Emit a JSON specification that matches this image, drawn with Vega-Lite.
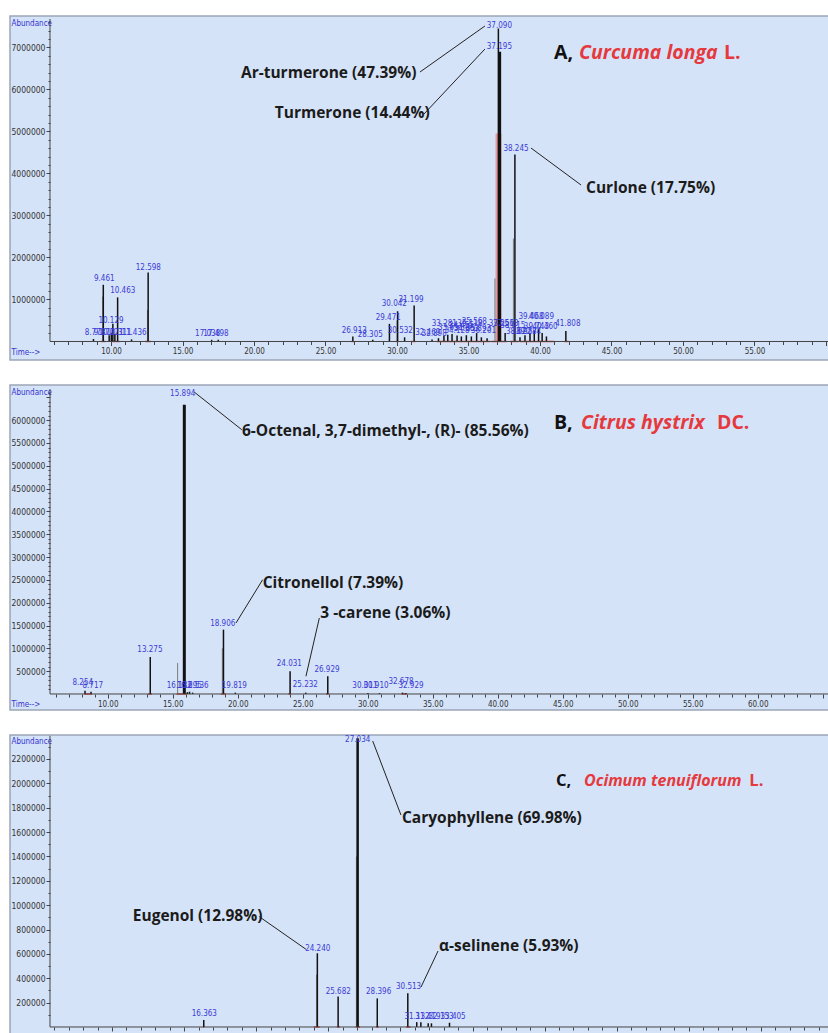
{
  "$schema": "https://vega.github.io/schema/vega-lite/v6.json",
  "background": "white",
  "padding": {"left": 9, "top": 15, "right": 0, "bottom": 0},
  "config": {
    "view": {"fill": "#d5e3f8", "stroke": "#9ba7b6", "strokeWidth": 1.5},
    "axis": {"grid": false, "domain": false, "labelFont": "DejaVu Sans Condensed, sans-serif", "titleFont": "DejaVu Sans Condensed, sans-serif", "labelColor": "#333333", "tickColor": "#444444", "titleColor": "#3434d0", "titleFontWeight": "normal", "titleFontSize": 8, "labelOverlap": false, "labelFlush": false},
    "concat": {"spacing": 23}
  },
  "datasets": {
    "A": [
      {"k": "axis", "t": 5.734, "v": 0, "t2": 60.21, "v2": 0},
      {"k": "axis", "t": 5.734, "v": 0, "t2": 5.734, "v2": 7680000},
      {"k": "fill", "t": 37.1, "v": 4950000},
      {"k": "seg", "t": 9.3, "v": 0, "t2": 9.6, "v2": 0},
      {"k": "seg", "t": 10.0, "v": 0, "t2": 10.6, "v2": 0},
      {"k": "seg", "t": 12.4, "v": 0, "t2": 12.8, "v2": 0},
      {"k": "seg", "t": 26.8, "v": 0, "t2": 27.0, "v2": 0},
      {"k": "seg", "t": 29.9, "v": 0, "t2": 30.1, "v2": 0},
      {"k": "seg", "t": 31.0, "v": 0, "t2": 31.3, "v2": 0},
      {"k": "seg", "t": 32.8, "v": 0, "t2": 36.5, "v2": 0},
      {"k": "seg", "t": 36.6, "v": 0, "t2": 37.7, "v2": 0},
      {"k": "seg", "t": 37.9, "v": 0, "t2": 38.5, "v2": 0},
      {"k": "seg", "t": 38.6, "v": 0, "t2": 41.0, "v2": 0},
      {"k": "seg", "t": 41.7, "v": 0, "t2": 42.0, "v2": 0},
      {"k": "sh", "t": 9.42, "v": 1070000},
      {"k": "sh", "t": 12.55, "v": 750000},
      {"k": "sh", "t": 30.0, "v": 500000},
      {"k": "sh", "t": 36.85, "v": 1500000},
      {"k": "sh", "t": 38.14, "v": 2450000},
      {"k": "peak", "t": 8.773, "v": 60000},
      {"k": "peak", "t": 9.461, "v": 1350000},
      {"k": "peak", "t": 9.872, "v": 150000},
      {"k": "peak", "t": 10.021, "v": 200000},
      {"k": "peak", "t": 10.129, "v": 420000},
      {"k": "peak", "t": 10.271, "v": 180000},
      {"k": "peak", "t": 10.463, "v": 1050000},
      {"k": "peak", "t": 11.436, "v": 50000},
      {"k": "peak", "t": 12.598, "v": 1640000},
      {"k": "peak", "t": 17.038, "v": 40000},
      {"k": "peak", "t": 17.498, "v": 40000},
      {"k": "peak", "t": 26.913, "v": 120000},
      {"k": "peak", "t": 28.305, "v": 40000},
      {"k": "peak", "t": 29.471, "v": 420000},
      {"k": "peak", "t": 30.042, "v": 720000},
      {"k": "peak", "t": 30.532, "v": 100000},
      {"k": "peak", "t": 31.199, "v": 860000},
      {"k": "peak", "t": 32.45, "v": 50000},
      {"k": "peak", "t": 32.9, "v": 80000},
      {"k": "peak", "t": 33.281, "v": 140000},
      {"k": "peak", "t": 33.55, "v": 160000},
      {"k": "peak", "t": 33.85, "v": 180000},
      {"k": "peak", "t": 34.2, "v": 140000},
      {"k": "peak", "t": 34.5, "v": 120000},
      {"k": "peak", "t": 34.85, "v": 150000},
      {"k": "peak", "t": 35.2, "v": 120000},
      {"k": "peak", "t": 35.568, "v": 200000},
      {"k": "peak", "t": 35.9, "v": 100000},
      {"k": "peak", "t": 36.3, "v": 80000},
      {"k": "peak", "t": 37.09, "v": 7450000},
      {"k": "peakb", "t": 37.195, "v": 6900000},
      {"k": "peak", "t": 37.563, "v": 200000},
      {"k": "peak", "t": 38.245, "v": 4450000},
      {"k": "peak", "t": 38.6, "v": 100000},
      {"k": "peak", "t": 38.95, "v": 150000},
      {"k": "peak", "t": 39.3, "v": 200000},
      {"k": "peak", "t": 39.6, "v": 250000},
      {"k": "peak", "t": 39.9, "v": 300000},
      {"k": "peak", "t": 40.15, "v": 200000},
      {"k": "peak", "t": 40.45, "v": 120000},
      {"k": "peak", "t": 41.808, "v": 250000},
      {"k": "pl", "t": 8.88, "v": 195000, "s": "8.773"},
      {"k": "pl", "t": 9.51, "v": 210000, "s": "9.872"},
      {"k": "pl", "t": 10.0, "v": 210000, "s": "10.021"},
      {"k": "pl", "t": 10.56, "v": 210000, "s": "10.311"},
      {"k": "pl", "t": 11.61, "v": 200000, "s": "11.436"},
      {"k": "pl", "t": 9.53, "v": 1480000, "s": "9.461"},
      {"k": "pl", "t": 10.0, "v": 490000, "s": "10.129"},
      {"k": "pl", "t": 10.82, "v": 1200000, "s": "10.463"},
      {"k": "pl", "t": 12.61, "v": 1760000, "s": "12.598"},
      {"k": "pl", "t": 16.76, "v": 190000, "s": "17.038"},
      {"k": "pl", "t": 17.34, "v": 190000, "s": "17.498"},
      {"k": "pl", "t": 27.01, "v": 250000, "s": "26.913"},
      {"k": "pl", "t": 28.13, "v": 155000, "s": "28.305"},
      {"k": "pl", "t": 29.39, "v": 550000, "s": "29.471"},
      {"k": "pl", "t": 29.81, "v": 886000, "s": "30.042"},
      {"k": "pl", "t": 30.98, "v": 980000, "s": "31.199"},
      {"k": "pl", "t": 30.23, "v": 250000, "s": "30.532"},
      {"k": "pl", "t": 32.15, "v": 210000, "s": "32.469"},
      {"k": "pl", "t": 32.6, "v": 170000, "s": "32.898"},
      {"k": "pl", "t": 33.31, "v": 410000, "s": "33.281"},
      {"k": "pl", "t": 33.75, "v": 330000, "s": "33.651"},
      {"k": "pl", "t": 34.2, "v": 260000, "s": "34.128"},
      {"k": "pl", "t": 34.5, "v": 380000, "s": "34.455"},
      {"k": "pl", "t": 34.85, "v": 300000, "s": "34.863"},
      {"k": "pl", "t": 35.1, "v": 420000, "s": "35.118"},
      {"k": "pl", "t": 35.41, "v": 470000, "s": "35.568"},
      {"k": "pl", "t": 35.7, "v": 290000, "s": "35.893"},
      {"k": "pl", "t": 36.05, "v": 250000, "s": "36.201"},
      {"k": "pl", "t": 37.16, "v": 7510000, "s": "37.090"},
      {"k": "pl", "t": 37.16, "v": 7000000, "s": "37.195"},
      {"k": "pl", "t": 37.3, "v": 410000, "s": "37.251"},
      {"k": "pl", "t": 37.62, "v": 410000, "s": "37.563"},
      {"k": "pl", "t": 38.1, "v": 380000, "s": "38.015"},
      {"k": "pl", "t": 38.5, "v": 220000, "s": "38.622"},
      {"k": "pl", "t": 38.9, "v": 220000, "s": "38.957"},
      {"k": "pl", "t": 39.2, "v": 220000, "s": "39.284"},
      {"k": "pl", "t": 38.32, "v": 4580000, "s": "38.245"},
      {"k": "pl", "t": 39.37, "v": 580000, "s": "39.468"},
      {"k": "pl", "t": 40.1, "v": 580000, "s": "40.089"},
      {"k": "pl", "t": 39.75, "v": 350000, "s": "39.743"},
      {"k": "pl", "t": 40.35, "v": 350000, "s": "40.460"},
      {"k": "pl", "t": 41.95, "v": 420000, "s": "41.808"},
      {"k": "lead", "t": 31.61, "v": 6417000, "t2": 36.15, "v2": 7512000},
      {"k": "lead", "t": 31.89, "v": 5417000, "t2": 36.15, "v2": 6964000},
      {"k": "lead", "t": 39.37, "v": 4607000, "t2": 42.87, "v2": 3726000},
      {"k": "note", "t": 19.09, "v": 6393000, "s": "Ar-turmerone (47.39%)"},
      {"k": "note", "t": 21.45, "v": 5430000, "s": "Turmerone (14.44%)"},
      {"k": "note", "t": 43.22, "v": 3655000, "s": "Curlone (17.75%)"},
      {"k": "t1", "t": 40.98, "v": 6876000, "s": "A,"},
      {"k": "t2", "t": 42.73, "v": 6876000, "s": "Curcuma longa"},
      {"k": "t3", "t": 52.87, "v": 6876000, "s": "L."}
    ],
    "B": [
      {"k": "axis", "t": 5.562, "v": 0, "t2": 65.48, "v2": 0},
      {"k": "axis", "t": 5.562, "v": 0, "t2": 5.562, "v2": 6680000},
      {"k": "seg", "t": 8.2, "v": 0, "t2": 8.8, "v2": 0},
      {"k": "seg", "t": 13.1, "v": 0, "t2": 13.4, "v2": 0},
      {"k": "seg", "t": 15.3, "v": 0, "t2": 16.1, "v2": 0},
      {"k": "seg", "t": 18.7, "v": 0, "t2": 19.1, "v2": 0},
      {"k": "seg", "t": 23.9, "v": 0, "t2": 24.1, "v2": 0},
      {"k": "seg", "t": 26.8, "v": 0, "t2": 27.0, "v2": 0},
      {"k": "seg", "t": 32.6, "v": 0, "t2": 33.0, "v2": 0},
      {"k": "sh", "t": 15.38, "v": 680000},
      {"k": "sh", "t": 18.82, "v": 1000000},
      {"k": "peak", "t": 8.254, "v": 70000},
      {"k": "peak", "t": 8.717, "v": 50000},
      {"k": "peak", "t": 13.275, "v": 810000},
      {"k": "peakb", "t": 15.894, "v": 6340000},
      {"k": "peak", "t": 16.132, "v": 40000},
      {"k": "peak", "t": 16.295, "v": 50000},
      {"k": "peak", "t": 16.536, "v": 30000},
      {"k": "peak", "t": 18.906, "v": 1410000},
      {"k": "peak", "t": 19.819, "v": 30000},
      {"k": "peak", "t": 24.031, "v": 500000},
      {"k": "peak", "t": 25.232, "v": 30000},
      {"k": "peak", "t": 26.929, "v": 390000},
      {"k": "peak", "t": 30.011, "v": 20000},
      {"k": "peak", "t": 30.91, "v": 20000},
      {"k": "peak", "t": 32.678, "v": 30000},
      {"k": "peak", "t": 32.929, "v": 20000},
      {"k": "pl", "t": 15.77, "v": 6580000, "s": "15.894"},
      {"k": "pl", "t": 13.25, "v": 970000, "s": "13.275"},
      {"k": "pl", "t": 18.85, "v": 1540000, "s": "18.906"},
      {"k": "pl", "t": 23.97, "v": 660000, "s": "24.031"},
      {"k": "pl", "t": 26.87, "v": 520000, "s": "26.929"},
      {"k": "pl", "t": 25.2, "v": 200000, "s": "25.232"},
      {"k": "pl", "t": 19.74, "v": 170000, "s": "19.819"},
      {"k": "pl", "t": 8.08, "v": 240000, "s": "8.254"},
      {"k": "pl", "t": 8.85, "v": 180000, "s": "8.717"},
      {"k": "pl", "t": 15.51, "v": 170000, "s": "16.132"},
      {"k": "pl", "t": 16.28, "v": 170000, "s": "16.295"},
      {"k": "pl", "t": 16.79, "v": 170000, "s": "16.536"},
      {"k": "pl", "t": 29.79, "v": 170000, "s": "30.011"},
      {"k": "pl", "t": 30.64, "v": 170000, "s": "30.910"},
      {"k": "pl", "t": 32.56, "v": 260000, "s": "32.678"},
      {"k": "pl", "t": 33.33, "v": 170000, "s": "32.929"},
      {"k": "lead", "t": 16.65, "v": 6617000, "t2": 20.31, "v2": 5791000},
      {"k": "lead", "t": 19.87, "v": 1556000, "t2": 21.92, "v2": 2504000},
      {"k": "lead", "t": 25.25, "v": 388000, "t2": 26.28, "v2": 1665000},
      {"k": "note", "t": 20.33, "v": 5756000, "s": "6-Octenal, 3,7-dimethyl-, (R)- (85.56%)"},
      {"k": "note", "t": 21.92, "v": 2432000, "s": "Citronellol (7.39%)"},
      {"k": "note", "t": 26.35, "v": 1775000, "s": "3 -carene (3.06%)"},
      {"k": "t1", "t": 44.33, "v": 5940000, "s": "B,"},
      {"k": "t2", "t": 46.41, "v": 5940000, "s": "Citrus hystrix"},
      {"k": "t3", "t": 56.87, "v": 5940000, "s": "DC."}
    ],
    "C": [
      {"k": "axis", "t": 5.7, "v": 0, "t2": 59.72, "v2": 0},
      {"k": "axis", "t": 5.7, "v": 0, "t2": 5.7, "v2": 2390000},
      {"k": "seg", "t": 16.3, "v": 0, "t2": 16.4, "v2": 0},
      {"k": "seg", "t": 24.0, "v": 0, "t2": 24.4, "v2": 0},
      {"k": "seg", "t": 25.6, "v": 0, "t2": 25.8, "v2": 0},
      {"k": "seg", "t": 26.9, "v": 0, "t2": 27.2, "v2": 0},
      {"k": "seg", "t": 28.3, "v": 0, "t2": 28.5, "v2": 0},
      {"k": "seg", "t": 30.4, "v": 0, "t2": 30.7, "v2": 0},
      {"k": "sh", "t": 24.19, "v": 430000},
      {"k": "sh", "t": 26.95, "v": 1400000},
      {"k": "peak", "t": 16.363, "v": 57000},
      {"k": "peak", "t": 24.24, "v": 605000},
      {"k": "peak", "t": 25.682, "v": 250000},
      {"k": "peakb", "t": 27.034, "v": 2370000},
      {"k": "peak", "t": 28.396, "v": 235000},
      {"k": "peak", "t": 30.513, "v": 277000},
      {"k": "peak", "t": 31.132, "v": 40000},
      {"k": "peak", "t": 31.419, "v": 40000},
      {"k": "peak", "t": 31.929, "v": 30000},
      {"k": "peak", "t": 32.153, "v": 30000},
      {"k": "peak", "t": 33.405, "v": 35000},
      {"k": "pl", "t": 27.04, "v": 2356000, "s": "27.034"},
      {"k": "pl", "t": 24.27, "v": 638000, "s": "24.240"},
      {"k": "pl", "t": 25.69, "v": 285000, "s": "25.682"},
      {"k": "pl", "t": 28.49, "v": 285000, "s": "28.396"},
      {"k": "pl", "t": 30.57, "v": 331000, "s": "30.513"},
      {"k": "pl", "t": 16.4, "v": 104000, "s": "16.363"},
      {"k": "pl", "t": 31.15, "v": 85000, "s": "31.132"},
      {"k": "pl", "t": 31.91, "v": 85000, "s": "31.419"},
      {"k": "pl", "t": 32.82, "v": 85000, "s": "32.153"},
      {"k": "pl", "t": 33.65, "v": 85000, "s": "33.405"},
      {"k": "lead", "t": 28.08, "v": 2348000, "t2": 30.04, "v2": 1740000},
      {"k": "lead", "t": 20.21, "v": 906000, "t2": 23.45, "v2": 638000},
      {"k": "lead", "t": 31.43, "v": 328000, "t2": 32.61, "v2": 624000},
      {"k": "note", "t": 30.11, "v": 1718000, "s": "Caryophyllene (69.98%)"},
      {"k": "note", "t": 11.44, "v": 914000, "s": "Eugenol (12.98%)"},
      {"k": "note", "t": 32.68, "v": 665000, "s": "α-selinene (5.93%)"},
      {"k": "t1", "t": 40.79, "v": 2020000, "s": "C,"},
      {"k": "t2", "t": 42.73, "v": 2020000, "s": "Ocimum tenuiflorum"},
      {"k": "t3", "t": 54.2, "v": 2020000, "s": "L."}
    ]
  },
  "vconcat": [
    {
      "width": 819, "height": 344,
      "data": {"name": "A"},
      "encoding": {
        "x": {"field": "t", "type": "quantitative", "scale": {"domain": [2.937, 60.21], "nice": false, "zero": false},
          "axis": {"values": [6,7,8,9,10,11,12,13,14,15,16,17,18,19,20,21,22,23,24,25,26,27,28,29,30,31,32,33,34,35,36,37,38,39,40,41,42,43,44,45,46,47,48,49,50,51,52,53,54,55,56,57,58,59,60],
            "labelExpr": "datum.value % 5 === 0 && datum.value <= 55 ? format(datum.value, '.2f') : ''", "offset": -18.5, "tickSize": {"condition": {"test": "datum.value % 5 === 0", "value": 4}, "value": 3},
            "labelFontSize": 8, "labelPadding": 2, "title": "Time-->", "titleX": 1, "titleY": 11, "titleAlign": "left", "titleBaseline": "middle"}},
        "y": {"field": "v", "type": "quantitative", "scale": {"domain": [-440500, 7750000], "nice": false, "zero": false},
          "axis": {"values": [200000,400000,600000,800000,1000000,1200000,1400000,1600000,1800000,2000000,2200000,2400000,2600000,2800000,3000000,3200000,3400000,3600000,3800000,4000000,4200000,4400000,4600000,4800000,5000000,5200000,5400000,5600000,5800000,6000000,6200000,6400000,6600000,6800000,7000000,7200000,7400000,7600000],
            "labelExpr": "datum.value % 1000000 === 0 ? format(datum.value, 'd') : ''", "offset": -40, "tickSize": {"condition": {"test": "datum.value % 1000000 === 0", "value": 4}, "value": 2},
            "labelFontSize": 8.5, "labelPadding": 1, "title": "Abundance", "titleAngle": 0, "titleAlign": "left", "titleBaseline": "top", "titleX": -39, "titleY": 3}}
      },
      "layer": [
        {"transform": [{"filter": "datum.k === 'fill'"}], "mark": {"type": "rule", "color": "#e58c8c", "strokeWidth": 6, "opacity": 0.85}, "encoding": {"y2": {"datum": 0}}},
        {"transform": [{"filter": "datum.k === 'seg'"}], "mark": {"type": "rule", "color": "#e0453d", "strokeWidth": 1.5}, "encoding": {"x2": {"field": "t2"}, "y2": {"field": "v2"}}},
        {"transform": [{"filter": "datum.k === 'sh'"}], "mark": {"type": "rule", "color": "#7a7a7a", "strokeWidth": 1}, "encoding": {"y2": {"datum": 0}}},
        {"transform": [{"filter": "datum.k === 'peak'"}], "mark": {"type": "rule", "color": "#111111", "strokeWidth": 1.5}, "encoding": {"y2": {"datum": 0}}},
        {"transform": [{"filter": "datum.k === 'peakb'"}], "mark": {"type": "rule", "color": "#111111", "strokeWidth": 2.5}, "encoding": {"y2": {"datum": 0}}},
        {"transform": [{"filter": "datum.k === 'axis'"}], "mark": {"type": "rule", "color": "#444444", "strokeWidth": 1}, "encoding": {"x2": {"field": "t2"}, "y2": {"field": "v2"}}},
        {"transform": [{"filter": "datum.k === 'lead'"}], "mark": {"type": "rule", "color": "#222222", "strokeWidth": 1}, "encoding": {"x2": {"field": "t2"}, "y2": {"field": "v2"}}},
        {"transform": [{"filter": "datum.k === 'pl'"}], "mark": {"type": "text", "color": "#3b3bd6", "font": "DejaVu Sans Condensed, sans-serif", "fontSize": 8, "align": "center", "baseline": "middle"}, "encoding": {"text": {"field": "s"}}},
        {"transform": [{"filter": "datum.k === 'note'"}], "mark": {"type": "text", "color": "#1b1b1b", "font": "Open Sans", "fontWeight": "bold", "fontSize": 15.5, "align": "left", "baseline": "middle"}, "encoding": {"text": {"field": "s"}}},
        {"transform": [{"filter": "datum.k === 't1'"}], "mark": {"type": "text", "color": "#111111", "font": "Open Sans", "fontWeight": "bold", "fontSize": 19.5, "align": "left", "baseline": "middle"}, "encoding": {"text": {"field": "s"}}},
        {"transform": [{"filter": "datum.k === 't2'"}], "mark": {"type": "text", "color": "#e5393d", "font": "Open Sans", "fontWeight": "bold", "fontStyle": "italic", "fontSize": 19.5, "align": "left", "baseline": "middle"}, "encoding": {"text": {"field": "s"}}},
        {"transform": [{"filter": "datum.k === 't3'"}], "mark": {"type": "text", "color": "#e5393d", "font": "Open Sans", "fontWeight": "bold", "fontSize": 19.5, "align": "left", "baseline": "middle"}, "encoding": {"text": {"field": "s"}}}
      ]
    },
    {
      "width": 819, "height": 325,
      "data": {"name": "B"},
      "encoding": {
        "x": {"field": "t", "type": "quantitative", "scale": {"domain": [2.485, 65.485], "nice": false, "zero": false},
          "axis": {"values": [6,7,8,9,10,11,12,13,14,15,16,17,18,19,20,21,22,23,24,25,26,27,28,29,30,31,32,33,34,35,36,37,38,39,40,41,42,43,44,45,46,47,48,49,50,51,52,53,54,55,56,57,58,59,60,61,62,63,64,65],
            "labelExpr": "datum.value % 5 === 0 && datum.value <= 60 ? format(datum.value, '.2f') : ''", "offset": -16, "tickSize": {"condition": {"test": "datum.value % 5 === 0", "value": 4}, "value": 3},
            "labelFontSize": 8, "labelPadding": 2, "title": "Time-->", "titleX": 1, "titleY": 10, "titleAlign": "left", "titleBaseline": "middle"}},
        "y": {"field": "v", "type": "quantitative", "scale": {"domain": [-350600, 6770000], "nice": false, "zero": false},
          "axis": {"values": [100000,200000,300000,400000,500000,600000,700000,800000,900000,1000000,1100000,1200000,1300000,1400000,1500000,1600000,1700000,1800000,1900000,2000000,2100000,2200000,2300000,2400000,2500000,2600000,2700000,2800000,2900000,3000000,3100000,3200000,3300000,3400000,3500000,3600000,3700000,3800000,3900000,4000000,4100000,4200000,4300000,4400000,4500000,4600000,4700000,4800000,4900000,5000000,5100000,5200000,5300000,5400000,5500000,5600000,5700000,5800000,5900000,6000000,6100000,6200000,6300000,6400000,6500000,6600000],
            "labelExpr": "datum.value % 500000 === 0 && datum.value <= 6000000 ? format(datum.value, 'd') : ''", "offset": -40, "tickSize": {"condition": {"test": "datum.value % 500000 === 0", "value": 4}, "value": 2},
            "labelFontSize": 8.5, "labelPadding": 1, "title": "Abundance", "titleAngle": 0, "titleAlign": "left", "titleBaseline": "top", "titleX": -39, "titleY": 3}}
      },
      "layer": [
        {"transform": [{"filter": "datum.k === 'seg'"}], "mark": {"type": "rule", "color": "#e0453d", "strokeWidth": 1.5}, "encoding": {"x2": {"field": "t2"}, "y2": {"field": "v2"}}},
        {"transform": [{"filter": "datum.k === 'sh'"}], "mark": {"type": "rule", "color": "#7a7a7a", "strokeWidth": 1}, "encoding": {"y2": {"datum": 0}}},
        {"transform": [{"filter": "datum.k === 'peak'"}], "mark": {"type": "rule", "color": "#111111", "strokeWidth": 1.5}, "encoding": {"y2": {"datum": 0}}},
        {"transform": [{"filter": "datum.k === 'peakb'"}], "mark": {"type": "rule", "color": "#111111", "strokeWidth": 3}, "encoding": {"y2": {"datum": 0}}},
        {"transform": [{"filter": "datum.k === 'axis'"}], "mark": {"type": "rule", "color": "#444444", "strokeWidth": 1}, "encoding": {"x2": {"field": "t2"}, "y2": {"field": "v2"}}},
        {"transform": [{"filter": "datum.k === 'lead'"}], "mark": {"type": "rule", "color": "#222222", "strokeWidth": 1}, "encoding": {"x2": {"field": "t2"}, "y2": {"field": "v2"}}},
        {"transform": [{"filter": "datum.k === 'pl'"}], "mark": {"type": "text", "color": "#3b3bd6", "font": "DejaVu Sans Condensed, sans-serif", "fontSize": 8, "align": "center", "baseline": "middle"}, "encoding": {"text": {"field": "s"}}},
        {"transform": [{"filter": "datum.k === 'note'"}], "mark": {"type": "text", "color": "#1b1b1b", "font": "Open Sans", "fontWeight": "bold", "fontSize": 15.5, "align": "left", "baseline": "middle"}, "encoding": {"text": {"field": "s"}}},
        {"transform": [{"filter": "datum.k === 't1'"}], "mark": {"type": "text", "color": "#111111", "font": "Open Sans", "fontWeight": "bold", "fontSize": 19.5, "align": "left", "baseline": "middle"}, "encoding": {"text": {"field": "s"}}},
        {"transform": [{"filter": "datum.k === 't2'"}], "mark": {"type": "text", "color": "#e5393d", "font": "Open Sans", "fontWeight": "bold", "fontStyle": "italic", "fontSize": 19.5, "align": "left", "baseline": "middle"}, "encoding": {"text": {"field": "s"}}},
        {"transform": [{"filter": "datum.k === 't3'"}], "mark": {"type": "text", "color": "#e5393d", "font": "Open Sans", "fontWeight": "bold", "fontSize": 19.5, "align": "left", "baseline": "middle"}, "encoding": {"text": {"field": "s"}}}
      ]
    },
    {
      "width": 819, "height": 303,
      "data": {"name": "C"},
      "encoding": {
        "x": {"field": "t", "type": "quantitative", "scale": {"domain": [2.927, 59.722], "nice": false, "zero": false},
          "axis": {"values": [6,7,8,9,10,11,12,13,14,15,16,17,18,19,20,21,22,23,24,25,26,27,28,29,30,31,32,33,34,35,36,37,38,39,40,41,42,43,44,45,46,47,48,49,50,51,52,53,54,55,56,57,58,59],
            "labelExpr": "datum.value % 5 === 0 && datum.value <= 55 ? format(datum.value, '.2f') : ''", "offset": -11, "tickSize": {"condition": {"test": "datum.value % 5 === 0", "value": 4}, "value": 3},
            "labelFontSize": 8, "labelPadding": 2, "title": "Time-->", "titleX": 1, "titleY": 10, "titleAlign": "left", "titleBaseline": "middle"}},
        "y": {"field": "v", "type": "quantitative", "scale": {"domain": [-90300, 2397000], "nice": false, "zero": false},
          "axis": {"values": [100000,200000,300000,400000,500000,600000,700000,800000,900000,1000000,1100000,1200000,1300000,1400000,1500000,1600000,1700000,1800000,1900000,2000000,2100000,2200000,2300000],
            "labelExpr": "datum.value % 200000 === 0 ? format(datum.value, 'd') : ''", "offset": -40, "tickSize": {"condition": {"test": "datum.value % 200000 === 0", "value": 4}, "value": 2},
            "labelFontSize": 8.5, "labelPadding": 1, "title": "Abundance", "titleAngle": 0, "titleAlign": "left", "titleBaseline": "top", "titleX": -39, "titleY": 2}}
      },
      "layer": [
        {"transform": [{"filter": "datum.k === 'seg'"}], "mark": {"type": "rule", "color": "#e0453d", "strokeWidth": 1.5}, "encoding": {"x2": {"field": "t2"}, "y2": {"field": "v2"}}},
        {"transform": [{"filter": "datum.k === 'sh'"}], "mark": {"type": "rule", "color": "#7a7a7a", "strokeWidth": 1}, "encoding": {"y2": {"datum": 0}}},
        {"transform": [{"filter": "datum.k === 'peak'"}], "mark": {"type": "rule", "color": "#111111", "strokeWidth": 1.5}, "encoding": {"y2": {"datum": 0}}},
        {"transform": [{"filter": "datum.k === 'peakb'"}], "mark": {"type": "rule", "color": "#111111", "strokeWidth": 2.5}, "encoding": {"y2": {"datum": 0}}},
        {"transform": [{"filter": "datum.k === 'axis'"}], "mark": {"type": "rule", "color": "#444444", "strokeWidth": 1}, "encoding": {"x2": {"field": "t2"}, "y2": {"field": "v2"}}},
        {"transform": [{"filter": "datum.k === 'lead'"}], "mark": {"type": "rule", "color": "#222222", "strokeWidth": 1}, "encoding": {"x2": {"field": "t2"}, "y2": {"field": "v2"}}},
        {"transform": [{"filter": "datum.k === 'pl'"}], "mark": {"type": "text", "color": "#3b3bd6", "font": "DejaVu Sans Condensed, sans-serif", "fontSize": 8, "align": "center", "baseline": "middle"}, "encoding": {"text": {"field": "s"}}},
        {"transform": [{"filter": "datum.k === 'note'"}], "mark": {"type": "text", "color": "#1b1b1b", "font": "Open Sans", "fontWeight": "bold", "fontSize": 15.5, "align": "left", "baseline": "middle"}, "encoding": {"text": {"field": "s"}}},
        {"transform": [{"filter": "datum.k === 't1'"}], "mark": {"type": "text", "color": "#111111", "font": "Open Sans", "fontWeight": "bold", "fontSize": 16.5, "align": "left", "baseline": "middle"}, "encoding": {"text": {"field": "s"}}},
        {"transform": [{"filter": "datum.k === 't2'"}], "mark": {"type": "text", "color": "#e5393d", "font": "Open Sans", "fontWeight": "bold", "fontStyle": "italic", "fontSize": 16, "align": "left", "baseline": "middle"}, "encoding": {"text": {"field": "s"}}},
        {"transform": [{"filter": "datum.k === 't3'"}], "mark": {"type": "text", "color": "#e5393d", "font": "Open Sans", "fontWeight": "bold", "fontSize": 16.5, "align": "left", "baseline": "middle"}, "encoding": {"text": {"field": "s"}}}
      ]
    }
  ]
}
